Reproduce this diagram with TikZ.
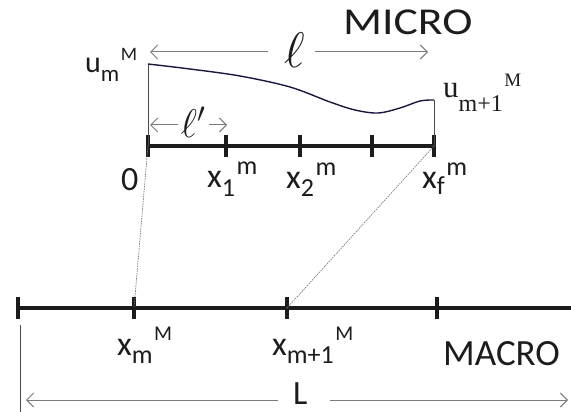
\RequirePackage{fix-cm}
\documentclass[tikz,border=0pt]{standalone}
\usepackage{fontspec}
\setmainfont{Carlito}
\newfontfamily\serifu{Liberation Serif}
\usetikzlibrary{arrows.meta}
\newcommand\fs[1]{\fontsize{#1}{#1}\selectfont}
% base, sub, sup, subsize, supsize, lower, raise
\newcommand\sx[7]{#1{\fs{#4}\raisebox{-#6pt}{#2}}{\fs{#5}\hspace{1.5pt}\raisebox{#7pt}{#3}}}
\definecolor{txt}{HTML}{1C1C1C}
\definecolor{dimgray}{HTML}{7A7A7A}
\begin{document}
\begin{tikzpicture}[x=1pt,y=-1pt,
  every node/.style={inner sep=0pt, text=txt},
  axis/.style={draw=txt, line width=4pt},
  tickmark/.style={draw=txt, line width=4.5pt},
  guide/.style={draw=txt!80, line width=0.8pt},
  curveline/.style={draw=txt!85!blue, line width=1.4pt},
  dim/.style={draw=dimgray, line width=1pt, -{Straight Barb[length=7pt,width=14pt,line width=1pt]}},
  link/.style={draw=dimgray, line width=0.7pt, dash pattern=on 1.5pt off 1pt},
  lab/.style={anchor=base west, font=\fs{34}}]
\useasboundingbox (0,0) rectangle (571,412);

% micro axis
\coordinate (m0) at (148,146);
\coordinate (m1) at (226,146);
\coordinate (m2) at (300,146);
\coordinate (m3) at (372,146);
\coordinate (mf) at (434,146);
\draw[axis] (m0) -- (mf);
\foreach \c in {m0,m1,m2,m3,mf} \draw[tickmark] ([yshift=-11pt]\c) -- ([yshift=11pt]\c);

% macro axis
\coordinate (M0) at (18,308);
\coordinate (M1) at (134,308);
\coordinate (M2) at (287,308);
\coordinate (M3) at (437,308);
\coordinate (Mend) at (571,308);
\draw[axis] (M0) -- (Mend);
\foreach \c in {M0,M1,M2,M3} \draw[tickmark] ([yshift=-11pt]\c) -- ([yshift=11pt]\c);

% links micro -> macro
\draw[link] (m0) -- (M1);
\draw[link] (mf) -- (M2);

% u profile
\coordinate (um) at (148,64);
\coordinate (uf) at (434,100);
\draw[guide] (um) -- (m0);
\draw[guide] (uf) -- (mf);
\draw[curveline] plot[smooth, tension=0.55] coordinates {(148,64) (190,69) (240,76) (290,87) (330,102) (355,110) (378,113) (400,108) (420,101) (434,100)};

% l dimension
\node (ell) at (295,50) {\fs{50}$\ell$};
\coordinate (elL) at (150,52);
\coordinate (elR) at (428,52);
\draw[dim, shorten <=17pt] (ell.west |- elL) -- (elL);
\draw[dim, shorten <=10pt] (ell.east |- elR) -- (elR);

% l' dimension
\node (elp) at (193,122) {\fs{40}$\ell'$};
\coordinate (eplL) at (150,125);
\coordinate (eplR) at (227,125);
\draw[dim, shorten <=2pt] (elp.west |- eplL) -- (eplL);
\draw[dim, shorten <=3pt] (elp.east |- eplR) -- (eplR);

% L dimension
\coordinate (Lv1) at (20,325);
\coordinate (Lv2) at (20,412);
\draw[guide] (Lv1) -- (Lv2);
\node[anchor=base west] (Lb) at (293,404) {\fs{34}L};
\coordinate (LL) at (26,400);
\coordinate (LR) at (568,400);
\draw[dim, shorten <=15pt] (Lb.west |- LL) -- (LL);
\draw[dim, shorten <=22pt] (Lb.east |- LR) -- (LR);

% titles
\node[anchor=base west] (micro) at (343,35) {\scalebox{1.2}[1]{\fs{38}MICRO}};
\node[anchor=base west] (macro) at (443,365) {\fs{37}MACRO};

% u labels
\node[anchor=base west] (uml) at (85,73) {\sx{\fs{30}u}{m}{M}{23}{19}{9}{12}};
\node[anchor=base west] (umpl) at (443,98) {\sx{\fs{31}\serifu u}{m+1}{M}{24}{19}{14}{11}};

% micro labels
\node[lab] (z0) at (121,190) {0};
\node[lab] (x1) at (207,187) {\sx{x}{1}{m}{26}{26}{9}{13}};
\node[lab] (x2) at (286,188) {\sx{x}{2}{m}{26}{26}{9}{13}};
\node[lab] (xf) at (422,188) {\sx{x}{f}{m}{26}{26}{6}{13}};

% macro labels
\node[lab] (xm) at (117,355) {\sx{x}{m}{M}{26}{21}{8}{15}};
\node[lab] (xmp) at (272,355) {\sx{x}{m+1}{M}{26}{21}{8}{15}};
\end{tikzpicture}
\end{document}
